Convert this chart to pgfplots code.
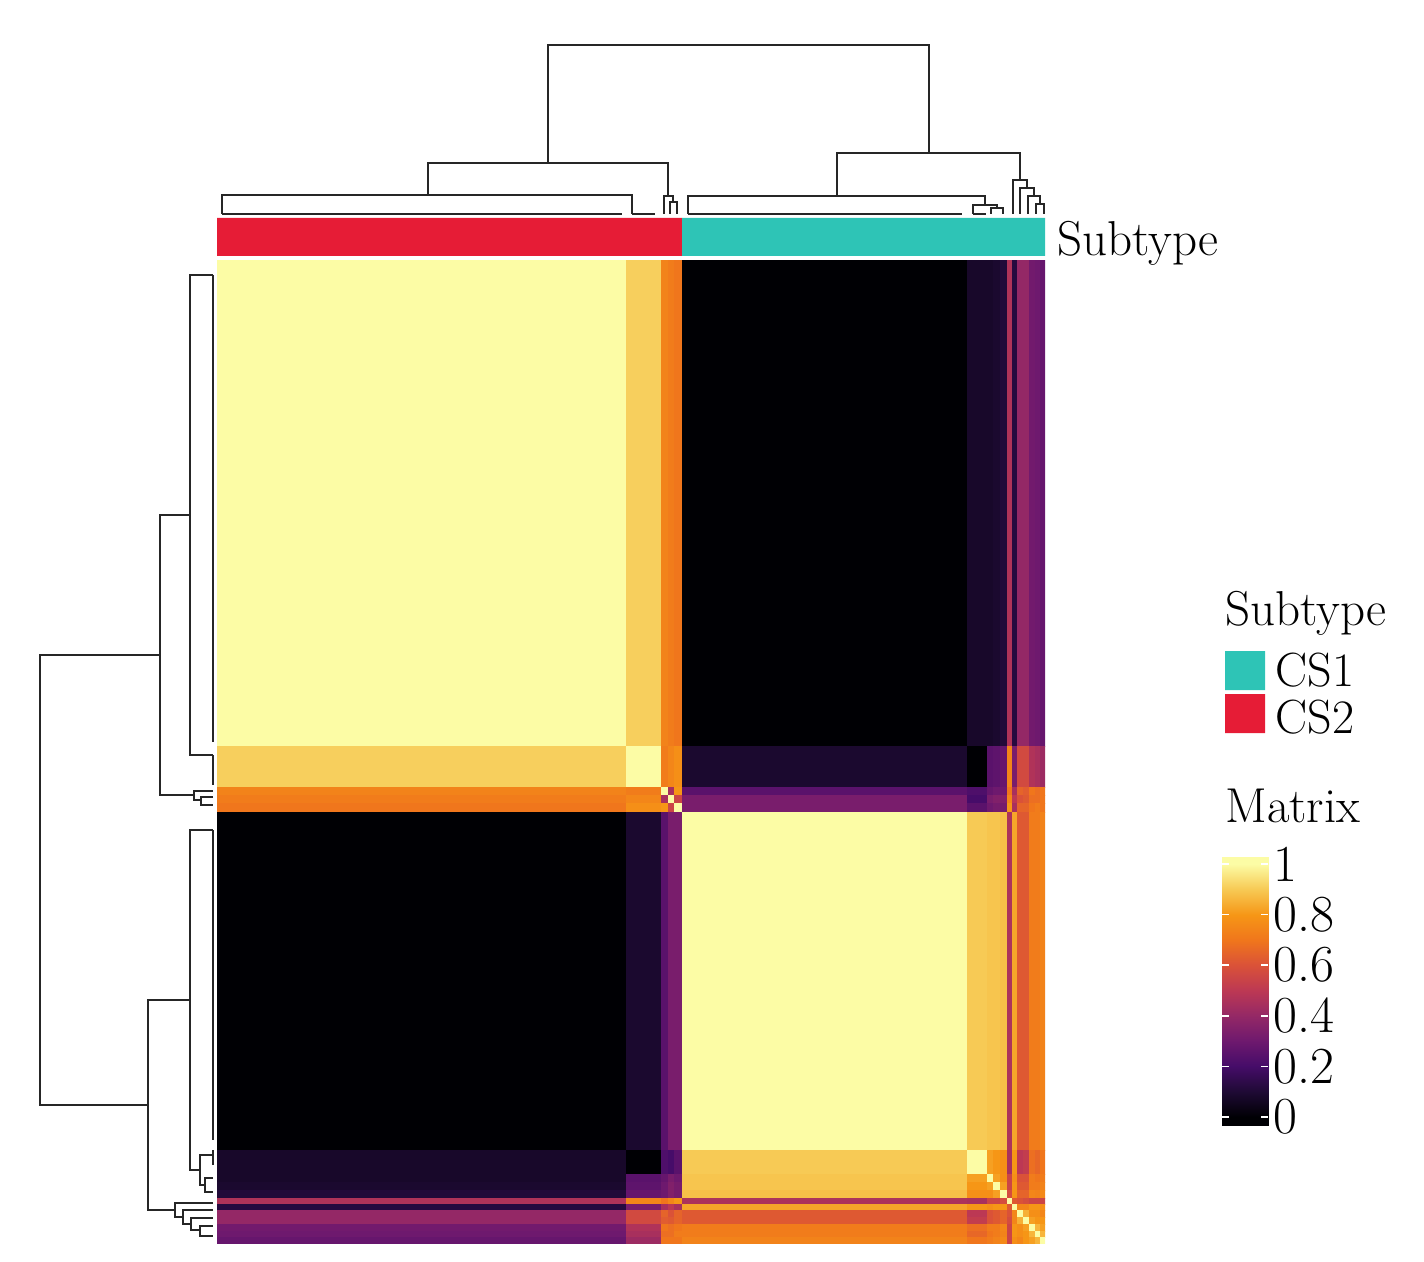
\documentclass[border=0pt]{standalone}
\usepackage{fontspec}
\usepackage{pgfplots}
\pgfplotsset{compat=1.18}
\definecolor{csone}{RGB}{46,196,182}
\definecolor{cstwo}{RGB}{230,28,54}
\pgfplotsset{colormap={infx}{rgb255=(0,0,4) rgb255=(30,10,52) rgb255=(70,12,105) rgb255=(110,25,110) rgb255=(148,40,102) rgb255=(188,56,84) rgb255=(218,82,56) rgb255=(240,118,28) rgb255=(246,150,22) rgb255=(247,202,85) rgb255=(252,252,165)}}
\pgfplotsset{dend/.style={draw=black!85, line width=1pt}}
\newcommand{\bigf}{\fontsize{24.5}{28}\selectfont}
\newcommand{\legf}{\fontsize{24}{26}\selectfont}
\newcommand{\tickf}{\fontsize{26}{30}\selectfont}
\begin{document}
\begin{tikzpicture}
\path[use as bounding box] (0,0) rectangle (712pt,631pt);
% heatmap
\begin{axis}[at={(108.5pt,9.5pt)}, anchor=south west, scale only axis,
  width=414pt, height=491.5pt, xmin=0, xmax=1000, ymin=0, ymax=1000,
  y dir=reverse, hide axis, colormap name=infx, point meta min=0, point meta max=1]
\addplot[surf, shader=flat corner, mesh/cols=18, point meta=explicit] coordinates {
(0,0)[1] (495,0)[0.91] (537,0)[0.74] (545,0)[0.72] (553,0)[0.70] (562,0)[0] (906,0)[0.08] (930,0)[0.08] (938,0)[0.09] (946,0)[0.11] (955,0)[0.47] (961,0)[0.12] (967,0)[0.40] (974,0)[0.40] (981,0)[0.31] (988,0)[0.30] (994,0)[0.28] (1000,0)[0]
(0,495)[0.91] (495,495)[1] (537,495)[0.72] (545,495)[0.75] (553,495)[0.78] (562,495)[0.09] (906,495)[0] (930,495)[0.25] (938,495)[0.26] (946,495)[0.28] (955,495)[0.75] (961,495)[0.33] (967,495)[0.57] (974,495)[0.57] (981,495)[0.47] (988,495)[0.45] (994,495)[0.42] (1000,495)[0]
(0,537)[0.74] (495,537)[0.72] (537,537)[1] (545,537)[0.45] (553,537)[0.80] (562,537)[0.25] (906,537)[0.22] (930,537)[0.28] (938,537)[0.30] (946,537)[0.30] (955,537)[0.70] (961,537)[0.45] (967,537)[0.65] (974,537)[0.63] (981,537)[0.70] (988,537)[0.68] (994,537)[0.70] (1000,537)[0]
(0,545)[0.72] (495,545)[0.75] (537,545)[0.45] (545,545)[1] (553,545)[0.55] (562,545)[0.33] (906,545)[0.20] (930,545)[0.33] (938,545)[0.35] (946,545)[0.35] (955,545)[0.75] (961,545)[0.50] (967,545)[0.60] (974,545)[0.62] (981,545)[0.68] (988,545)[0.68] (994,545)[0.70] (1000,545)[0]
(0,553)[0.70] (495,553)[0.78] (537,553)[0.80] (545,553)[0.55] (553,553)[1] (562,553)[0.33] (906,553)[0.25] (930,553)[0.30] (938,553)[0.32] (946,553)[0.32] (955,553)[0.80] (961,553)[0.45] (967,553)[0.65] (974,553)[0.65] (981,553)[0.70] (988,553)[0.72] (994,553)[0.70] (1000,553)[0]
(0,562)[0] (495,562)[0.09] (537,562)[0.25] (545,562)[0.33] (553,562)[0.33] (562,562)[1] (906,562)[0.90] (930,562)[0.89] (938,562)[0.89] (946,562)[0.88] (955,562)[0.46] (961,562)[0.83] (967,562)[0.62] (974,562)[0.62] (981,562)[0.72] (988,562)[0.72] (994,562)[0.74] (1000,562)[0]
(0,906)[0.08] (495,906)[0] (537,906)[0.22] (545,906)[0.20] (553,906)[0.25] (562,906)[0.90] (906,906)[1] (930,906)[0.82] (938,906)[0.80] (946,906)[0.78] (955,906)[0.45] (961,906)[0.80] (967,906)[0.50] (974,906)[0.52] (981,906)[0.68] (988,906)[0.66] (994,906)[0.70] (1000,906)[0]
(0,930)[0.08] (495,930)[0.25] (537,930)[0.28] (545,930)[0.33] (553,930)[0.30] (562,930)[0.89] (906,930)[0.82] (930,930)[1] (938,930)[0.82] (946,930)[0.78] (955,930)[0.55] (961,930)[0.78] (967,930)[0.60] (974,930)[0.60] (981,930)[0.72] (988,930)[0.70] (994,930)[0.72] (1000,930)[0]
(0,938)[0.09] (495,938)[0.26] (537,938)[0.30] (545,938)[0.35] (553,938)[0.32] (562,938)[0.89] (906,938)[0.80] (930,938)[0.82] (938,938)[1] (946,938)[0.82] (955,938)[0.55] (961,938)[0.80] (967,938)[0.62] (974,938)[0.62] (981,938)[0.72] (988,938)[0.72] (994,938)[0.74] (1000,938)[0]
(0,946)[0.11] (495,946)[0.28] (537,946)[0.30] (545,946)[0.35] (553,946)[0.32] (562,946)[0.88] (906,946)[0.78] (930,946)[0.78] (938,946)[0.82] (946,946)[1] (955,946)[0.58] (961,946)[0.80] (967,946)[0.65] (974,946)[0.65] (981,946)[0.75] (988,946)[0.74] (994,946)[0.76] (1000,946)[0]
(0,955)[0.47] (495,955)[0.75] (537,955)[0.70] (545,955)[0.75] (553,955)[0.80] (562,955)[0.46] (906,955)[0.45] (930,955)[0.55] (938,955)[0.55] (946,955)[0.58] (955,955)[1] (961,955)[0.62] (967,955)[0.60] (974,955)[0.58] (981,955)[0.55] (988,955)[0.55] (994,955)[0.55] (1000,955)[0]
(0,961)[0.12] (495,961)[0.33] (537,961)[0.45] (545,961)[0.50] (553,961)[0.45] (562,961)[0.83] (906,961)[0.80] (930,961)[0.78] (938,961)[0.80] (946,961)[0.80] (955,961)[0.62] (961,961)[1] (967,961)[0.75] (974,961)[0.75] (981,961)[0.80] (988,961)[0.80] (994,961)[0.78] (1000,961)[0]
(0,967)[0.40] (495,967)[0.57] (537,967)[0.65] (545,967)[0.60] (553,967)[0.65] (562,967)[0.62] (906,967)[0.50] (930,967)[0.60] (938,967)[0.62] (946,967)[0.65] (955,967)[0.60] (961,967)[0.75] (967,967)[1] (974,967)[0.85] (981,967)[0.78] (988,967)[0.78] (994,967)[0.75] (1000,967)[0]
(0,974)[0.40] (495,974)[0.57] (537,974)[0.63] (545,974)[0.62] (553,974)[0.65] (562,974)[0.62] (906,974)[0.52] (930,974)[0.60] (938,974)[0.62] (946,974)[0.65] (955,974)[0.58] (961,974)[0.75] (967,974)[0.85] (974,974)[1] (981,974)[0.82] (988,974)[0.80] (994,974)[0.80] (1000,974)[0]
(0,981)[0.31] (495,981)[0.47] (537,981)[0.70] (545,981)[0.68] (553,981)[0.70] (562,981)[0.72] (906,981)[0.68] (930,981)[0.72] (938,981)[0.72] (946,981)[0.75] (955,981)[0.55] (961,981)[0.80] (967,981)[0.78] (974,981)[0.82] (981,981)[1] (988,981)[0.86] (994,981)[0.82] (1000,981)[0]
(0,988)[0.30] (495,988)[0.45] (537,988)[0.68] (545,988)[0.68] (553,988)[0.72] (562,988)[0.72] (906,988)[0.66] (930,988)[0.70] (938,988)[0.72] (946,988)[0.74] (955,988)[0.55] (961,988)[0.80] (967,988)[0.78] (974,988)[0.80] (981,988)[0.86] (988,988)[1] (994,988)[0.86] (1000,988)[0]
(0,994)[0.28] (495,994)[0.42] (537,994)[0.70] (545,994)[0.70] (553,994)[0.70] (562,994)[0.74] (906,994)[0.70] (930,994)[0.72] (938,994)[0.74] (946,994)[0.76] (955,994)[0.55] (961,994)[0.78] (967,994)[0.75] (974,994)[0.80] (981,994)[0.82] (988,994)[0.86] (994,994)[1] (1000,994)[0]
(0,1000)[0] (495,1000)[0] (537,1000)[0] (545,1000)[0] (553,1000)[0] (562,1000)[0] (906,1000)[0] (930,1000)[0] (938,1000)[0] (946,1000)[0] (955,1000)[0] (961,1000)[0] (967,1000)[0] (974,1000)[0] (981,1000)[0] (988,1000)[0] (994,1000)[0] (1000,1000)[0]
};
\end{axis}
% canvas in pixel units
\begin{axis}[at={(0pt,0pt)}, anchor=south west, scale only axis,
  width=712pt, height=631pt, xmin=0, xmax=1424, ymin=0, ymax=1262,
  y dir=reverse, hide axis, clip=false, colormap name=infx,
  point meta min=0, point meta max=1]
% top dendrogram
\addplot[dend] coordinates {(548,163) (548,45) (929,45) (929,153)};
\addplot[dend] coordinates {(428,195) (428,163) (668,163) (668,196)};
\addplot[dend] coordinates {(222,214) (222,195) (632,195) (632,214)};
\addplot[dend] coordinates {(222,214) (622,214)};
\addplot[dend] coordinates {(632,214) (655,214)};
\addplot[dend] coordinates {(664,214) (664,196) (673,196) (673,202)};
\addplot[dend] coordinates {(670,214) (670,202) (677,202) (677,214)};
\addplot[dend] coordinates {(837,196) (837,153) (1020,153) (1020,180)};
\addplot[dend] coordinates {(688,214) (688,196) (985,196) (985,205)};
\addplot[dend] coordinates {(688,214) (962,214)};
\addplot[dend] coordinates {(973,214) (973,205) (997,205) (997,208)};
\addplot[dend] coordinates {(973,214) (986,214)};
\addplot[dend] coordinates {(991,214) (991,208) (1003,208) (1003,214)};
\addplot[dend] coordinates {(1013,214) (1013,180) (1027,180) (1027,188)};
\addplot[dend] coordinates {(1020,214) (1020,188) (1034,188) (1034,196)};
\addplot[dend] coordinates {(1028,214) (1028,196) (1040,196) (1040,204)};
\addplot[dend] coordinates {(1036,214) (1036,204) (1044,204) (1044,214)};
% left dendrogram
\addplot[dend] coordinates {(160,655) (40,655) (40,1105) (148,1105)};
\addplot[dend] coordinates {(190,515) (160,515) (160,795) (194,795)};
\addplot[dend] coordinates {(213,275) (190,275) (190,755) (213,755)};
\addplot[dend] coordinates {(213,275) (213,742)};
\addplot[dend] coordinates {(213,755) (213,785)};
\addplot[dend] coordinates {(213,791) (194,791) (194,800) (201,800)};
\addplot[dend] coordinates {(213,797) (201,797) (201,805) (213,805)};
\addplot[dend] coordinates {(190,1000) (148,1000) (148,1210) (175,1210)};
\addplot[dend] coordinates {(213,830) (190,830) (190,1170) (200,1170)};
\addplot[dend] coordinates {(213,830) (213,1140)};
\addplot[dend] coordinates {(213,1155) (200,1155) (200,1185) (205,1185)};
\addplot[dend] coordinates {(213,1150) (213,1165)};
\addplot[dend] coordinates {(213,1178) (205,1178) (205,1192) (213,1192)};
\addplot[dend] coordinates {(213,1203) (175,1203) (175,1217) (183,1217)};
\addplot[dend] coordinates {(213,1210) (183,1210) (183,1224) (191,1224)};
\addplot[dend] coordinates {(213,1218) (191,1218) (191,1230) (200,1230)};
\addplot[dend] coordinates {(213,1226) (200,1226) (200,1236) (213,1236)};
% annotation bar
\addplot[fill=cstwo, draw=none] coordinates {(217,218) (682,218) (682,256) (217,256) (217,218)};
\addplot[fill=csone, draw=none] coordinates {(682,218) (1045,218) (1045,256) (682,256) (682,218)};
\node[anchor=base west, inner sep=0pt, font=\bigf] at (axis cs:1057,256) {Subtype};
% legend: Subtype
\node[anchor=base west, inner sep=0pt, font=\bigf] at (axis cs:1225,625) {Subtype};
\addplot[fill=csone, draw=none] coordinates {(1225,651) (1265,651) (1265,690) (1225,690) (1225,651)};
\addplot[fill=cstwo, draw=none] coordinates {(1225,694) (1265,694) (1265,733) (1225,733) (1225,694)};
\node[anchor=base west, inner sep=0pt, font=\legf] at (axis cs:1275,686) {CS1};
\node[anchor=base west, inner sep=0pt, font=\legf] at (axis cs:1275,733) {CS2};
% legend: Matrix
\node[anchor=base west, inner sep=0pt, font=\bigf] at (axis cs:1225,822) {Matrix};
\addplot[surf, shader=interp, mesh/cols=2, point meta=explicit] coordinates {
(1222,857)[1] (1268,857)[1]
(1222,864)[1] (1268,864)[1]
(1222,889.3)[0.9] (1268,889.3)[0.9]
(1222,914.6)[0.8] (1268,914.6)[0.8]
(1222,939.9)[0.7] (1268,939.9)[0.7]
(1222,965.2)[0.6] (1268,965.2)[0.6]
(1222,990.5)[0.5] (1268,990.5)[0.5]
(1222,1015.8)[0.4] (1268,1015.8)[0.4]
(1222,1041.1)[0.3] (1268,1041.1)[0.3]
(1222,1066.4)[0.2] (1268,1066.4)[0.2]
(1222,1091.7)[0.1] (1268,1091.7)[0.1]
(1222,1117)[0] (1268,1117)[0]
(1222,1125)[0] (1268,1125)[0]
};
\addplot[draw=white, line width=0.8pt] coordinates {(1222,864) (1229,864)};
\addplot[draw=white, line width=0.8pt] coordinates {(1261,864) (1268,864)};
\addplot[draw=white, line width=0.8pt] coordinates {(1222,914.6) (1229,914.6)};
\addplot[draw=white, line width=0.8pt] coordinates {(1261,914.6) (1268,914.6)};
\addplot[draw=white, line width=0.8pt] coordinates {(1222,965.2) (1229,965.2)};
\addplot[draw=white, line width=0.8pt] coordinates {(1261,965.2) (1268,965.2)};
\addplot[draw=white, line width=0.8pt] coordinates {(1222,1015.8) (1229,1015.8)};
\addplot[draw=white, line width=0.8pt] coordinates {(1261,1015.8) (1268,1015.8)};
\addplot[draw=white, line width=0.8pt] coordinates {(1222,1066.4) (1229,1066.4)};
\addplot[draw=white, line width=0.8pt] coordinates {(1261,1066.4) (1268,1066.4)};
\addplot[draw=white, line width=0.8pt] coordinates {(1222,1117) (1229,1117)};
\addplot[draw=white, line width=0.8pt] coordinates {(1261,1117) (1268,1117)};
\node[anchor=west, inner sep=0pt, font=\tickf] at (axis cs:1273,864) {1};
\node[anchor=west, inner sep=0pt, font=\tickf] at (axis cs:1273,914.6) {0.8};
\node[anchor=west, inner sep=0pt, font=\tickf] at (axis cs:1273,965.2) {0.6};
\node[anchor=west, inner sep=0pt, font=\tickf] at (axis cs:1273,1015.8) {0.4};
\node[anchor=west, inner sep=0pt, font=\tickf] at (axis cs:1273,1066.4) {0.2};
\node[anchor=west, inner sep=0pt, font=\tickf] at (axis cs:1273,1117) {0};
\end{axis}
\end{tikzpicture}
\end{document}
